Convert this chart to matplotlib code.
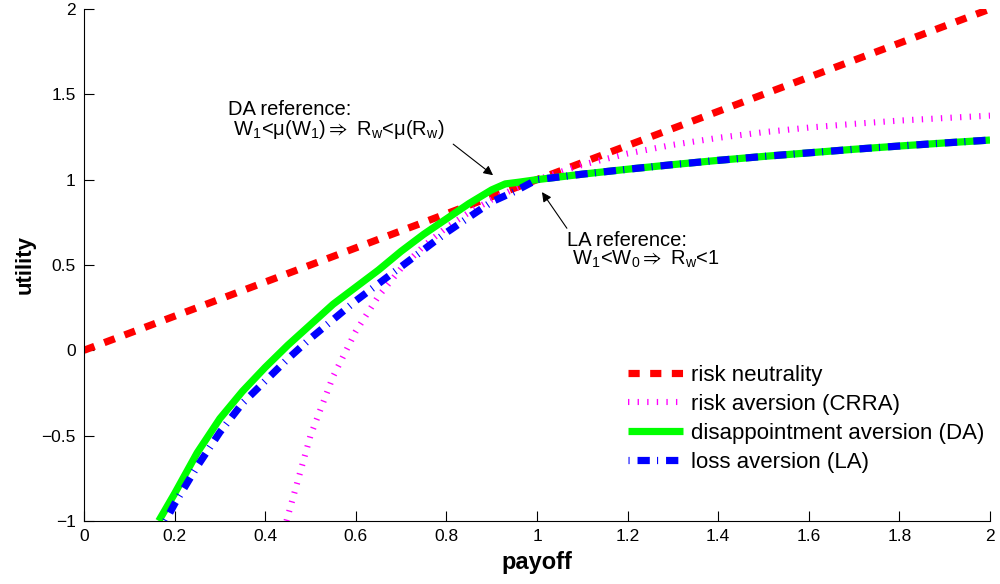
import matplotlib
matplotlib.use("Agg")
import matplotlib.pyplot as plt

plt.rcParams['font.family'] = ['Liberation Sans', 'DejaVu Sans']
plt.rcParams['mathtext.fontset'] = 'custom'
plt.rcParams['mathtext.rm'] = 'Liberation Sans'
plt.rcParams['mathtext.it'] = 'Liberation Sans:italic'
plt.rcParams['mathtext.fallback'] = 'stixsans'

# ---- data ----
rn_x = [0.0, 2.0]
rn_y = [0.0, 2.0]

crra_x = [0.447, 0.5, 0.55, 0.6, 0.65, 0.7, 0.75, 0.8, 0.85, 0.9, 0.95, 1.0,
          1.1, 1.2, 1.3, 1.4, 1.5, 1.6, 1.7, 1.8, 1.9, 2.0]
crra_y = [-1.0, -0.5, -0.153, 0.111, 0.317, 0.480, 0.611, 0.719, 0.808, 0.883, 0.946, 1.0,
          1.087, 1.153, 1.204, 1.245, 1.278, 1.305, 1.327, 1.346, 1.361, 1.375]

gain_x = [1.0, 1.1, 1.2, 1.3, 1.4, 1.5, 1.6, 1.7, 1.8, 1.9, 2.0]
gain_y = [1.0, 1.032, 1.061, 1.088, 1.113, 1.136, 1.157, 1.178, 1.197, 1.215, 1.232]

da_x = [0.165, 0.2, 0.25, 0.3, 0.35, 0.4, 0.45, 0.5, 0.55, 0.6, 0.65, 0.7, 0.75,
        0.8, 0.85, 0.9, 0.93, 0.96, 1.0]
da_y = [-1.0, -0.84, -0.6, -0.4, -0.24, -0.1, 0.03, 0.15, 0.27, 0.37, 0.47, 0.58, 0.68,
        0.77, 0.86, 0.94, 0.975, 0.985, 1.0]

la_x = [0.18, 0.2, 0.25, 0.3, 0.35, 0.4, 0.45, 0.5, 0.55, 0.6, 0.65, 0.7, 0.75,
        0.8, 0.85, 0.9, 0.95, 1.0]
la_y = [-1.0, -0.9, -0.68, -0.48, -0.31, -0.18, -0.05, 0.07, 0.18, 0.29, 0.39, 0.49, 0.59,
        0.69, 0.78, 0.87, 0.93, 1.0]

labels = ["risk neutrality", "risk aversion (CRRA)",
          "disappointment aversion (DA)", "loss aversion (LA)"]
xticks = [0, 0.2, 0.4, 0.6, 0.8, 1, 1.2, 1.4, 1.6, 1.8, 2]
xticklabels = ["0", "0.2", "0.4", "0.6", "0.8", "1", "1.2", "1.4", "1.6", "1.8", "2"]
yticks = [-1, -0.5, 0, 0.5, 1, 1.5, 2]
yticklabels = ["\u22121", "\u22120.5", "0", "0.5", "1", "1.5", "2"]

fig = plt.figure(figsize=(10, 5.84), dpi=100)
ax = fig.add_axes([0.084, 0.108, 0.906, 0.8766])

da_full_x = da_x + gain_x[1:]
da_full_y = da_y + gain_y[1:]
la_full_x = la_x + gain_x[1:]
la_full_y = la_y + gain_y[1:]

l1, = ax.plot(rn_x, rn_y, color='#ff0000', lw=5.2, linestyle=(0, (1.55, 1.45)),
              dash_capstyle='butt', label=labels[0], zorder=2)
l2, = ax.plot(crra_x, crra_y, color='#ff00ff', lw=4.4, linestyle=(0, (0.22, 1.35)),
              dash_capstyle='butt', label=labels[1], zorder=3)
l3, = ax.plot(da_full_x, da_full_y, color='#00ff00', lw=5.2, linestyle='-',
              solid_capstyle='butt', label=labels[2], zorder=4)
l4, = ax.plot(la_full_x, la_full_y, color='#0000ff', lw=5.2,
              linestyle=(0, (0.15, 1.1, 1.7, 1.0)),
              dash_capstyle='butt', label=labels[3], zorder=5)

ax.set_xlim(0, 2)
ax.set_ylim(-1, 2)
ax.set_xticks(xticks)
ax.set_xticklabels(xticklabels)
ax.set_yticks(yticks)
ax.set_yticklabels(yticklabels)
ax.tick_params(direction='in', length=7, width=0.8, labelsize=12.5, pad=6)
ax.spines['top'].set_visible(False)
ax.spines['right'].set_visible(False)

ax.set_xlabel("payoff", fontsize=17, fontweight='bold', labelpad=5)
ax.set_ylabel("utility", fontsize=16, fontweight='bold', labelpad=4)

ax.text(0.318, 1.225,
        "DA reference:\n W$_1$<\u03bc(W$_1$)$\\Rightarrow$ R$_\\mathrm{w}$<\u03bc(R$_\\mathrm{w}$)",
        fontsize=14.5, ha='left', va='bottom', linespacing=0.95, zorder=6)
ax.annotate("", xy=(0.903, 1.026), xytext=(0.815, 1.208),
            arrowprops=dict(arrowstyle='-|>', color='black', lw=0.8,
                            shrinkA=0, shrinkB=0, mutation_scale=14))

ax.text(1.066, 0.70, "LA reference:\n W$_1$<W$_0$$\\Rightarrow$ R$_\\mathrm{w}$<1",
        fontsize=14.5, ha='left', va='top', linespacing=0.95)
ax.annotate("", xy=(1.011, 0.927), xytext=(1.066, 0.715),
            arrowprops=dict(arrowstyle='-|>', color='black', lw=0.8,
                            shrinkA=0, shrinkB=0, mutation_scale=14))

leg = ax.legend(handles=[l1, l2, l3, l4], loc='upper left',
                bbox_to_anchor=(0.6, 0.305), frameon=False, fontsize=16,
                handlelength=2.5, handletextpad=0.36, labelspacing=0.36,
                borderpad=0.0, borderaxespad=0.0)

fig.savefig("out.png", dpi=100)
